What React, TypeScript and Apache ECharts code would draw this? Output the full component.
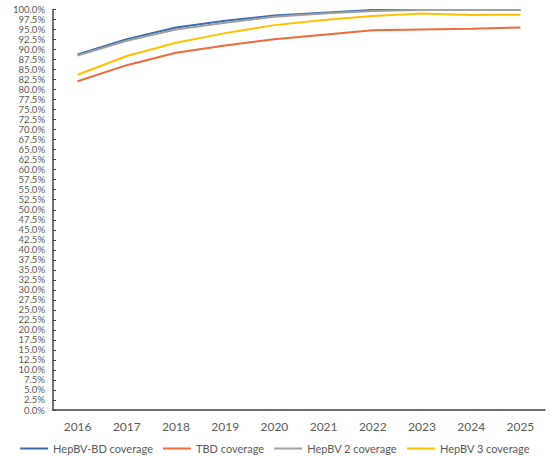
import React, { useEffect, useRef } from "react";
import * as echarts from "echarts";

const years = ["2016", "2017", "2018", "2019", "2020", "2021", "2022", "2023", "2024", "2025"];
const hepbvBD = [88.8, 92.6, 95.5, 97.2, 98.5, 99.2, 99.9, 99.9, 99.9, 99.9];
const tbd = [82.1, 86.1, 89.2, 91.0, 92.6, 93.7, 94.8, 95.0, 95.2, 95.5];
const hepbv2 = [88.5, 92.2, 95.0, 96.7, 98.2, 99.0, 99.6, 99.9, 99.9, 99.9];
const hepbv3 = [83.7, 88.4, 91.7, 94.1, 96.1, 97.4, 98.4, 99.0, 98.6, 98.7];

const seriesNames = ["HepBV-BD coverage", "TBD coverage", "HepBV 2 coverage", "HepBV 3 coverage"];
const seriesColors = ["#3A6BAF", "#ED6A3A", "#A0A0A0", "#FFC000"];

export default function App() {
  const ref = useRef<HTMLDivElement>(null);
  useEffect(() => {
    if (!ref.current) return;
    const chart = echarts.init(ref.current, undefined, { renderer: "svg" });
    const datas = [hepbvBD, tbd, hepbv2, hepbv3];
    chart.setOption({
      animation: false,
      backgroundColor: "#ffffff",
      textStyle: { fontFamily: "Lato" },
      grid: { left: 53, right: 5, top: 9.5, bottom: 49, containLabel: false },
      legend: {
        bottom: 0,
        left: "center",
        icon: "rect",
        itemWidth: 28,
        itemHeight: 2,
        itemGap: 10,
        textStyle: { color: "#595959", fontSize: 11, fontFamily: "Lato" },
        data: seriesNames,
      },
      xAxis: {
        type: "category",
        data: years,
        boundaryGap: true,
        axisLine: { lineStyle: { color: "#404040", width: 1.5 } },
        axisTick: { show: false },
        axisLabel: { color: "#595959", fontSize: 12, margin: 10, fontFamily: "Lato" },
        splitLine: { show: false },
      },
      yAxis: {
        type: "value",
        min: 0,
        max: 100,
        interval: 2.5,
        axisLine: { show: true, lineStyle: { color: "#404040", width: 1.5 } },
        axisTick: { show: true, inside: true, length: 3, lineStyle: { color: "#404040" } },
        axisLabel: {
          color: "#595959",
          fontSize: 9.5,
          lineHeight: 9.5,
          margin: 8,
          fontFamily: "Lato",
          showMinLabel: true,
          showMaxLabel: true,
          hideOverlap: false,
          formatter: (v: number) => v.toFixed(1) + "%",
        },
        splitLine: { show: false },
      },
      series: datas.map((d, i) => ({
        name: seriesNames[i],
        type: "line",
        data: d,
        symbol: "none",
        smooth: false,
        lineStyle: { width: 2, color: seriesColors[i] },
        itemStyle: { color: seriesColors[i] },
      })),
    });
    return () => chart.dispose();
  }, []);
  return (
    <div
      ref={ref}
      style={{ position: "fixed", left: 0, top: 0, width: 550, height: 459 }}
    />
  );
}
